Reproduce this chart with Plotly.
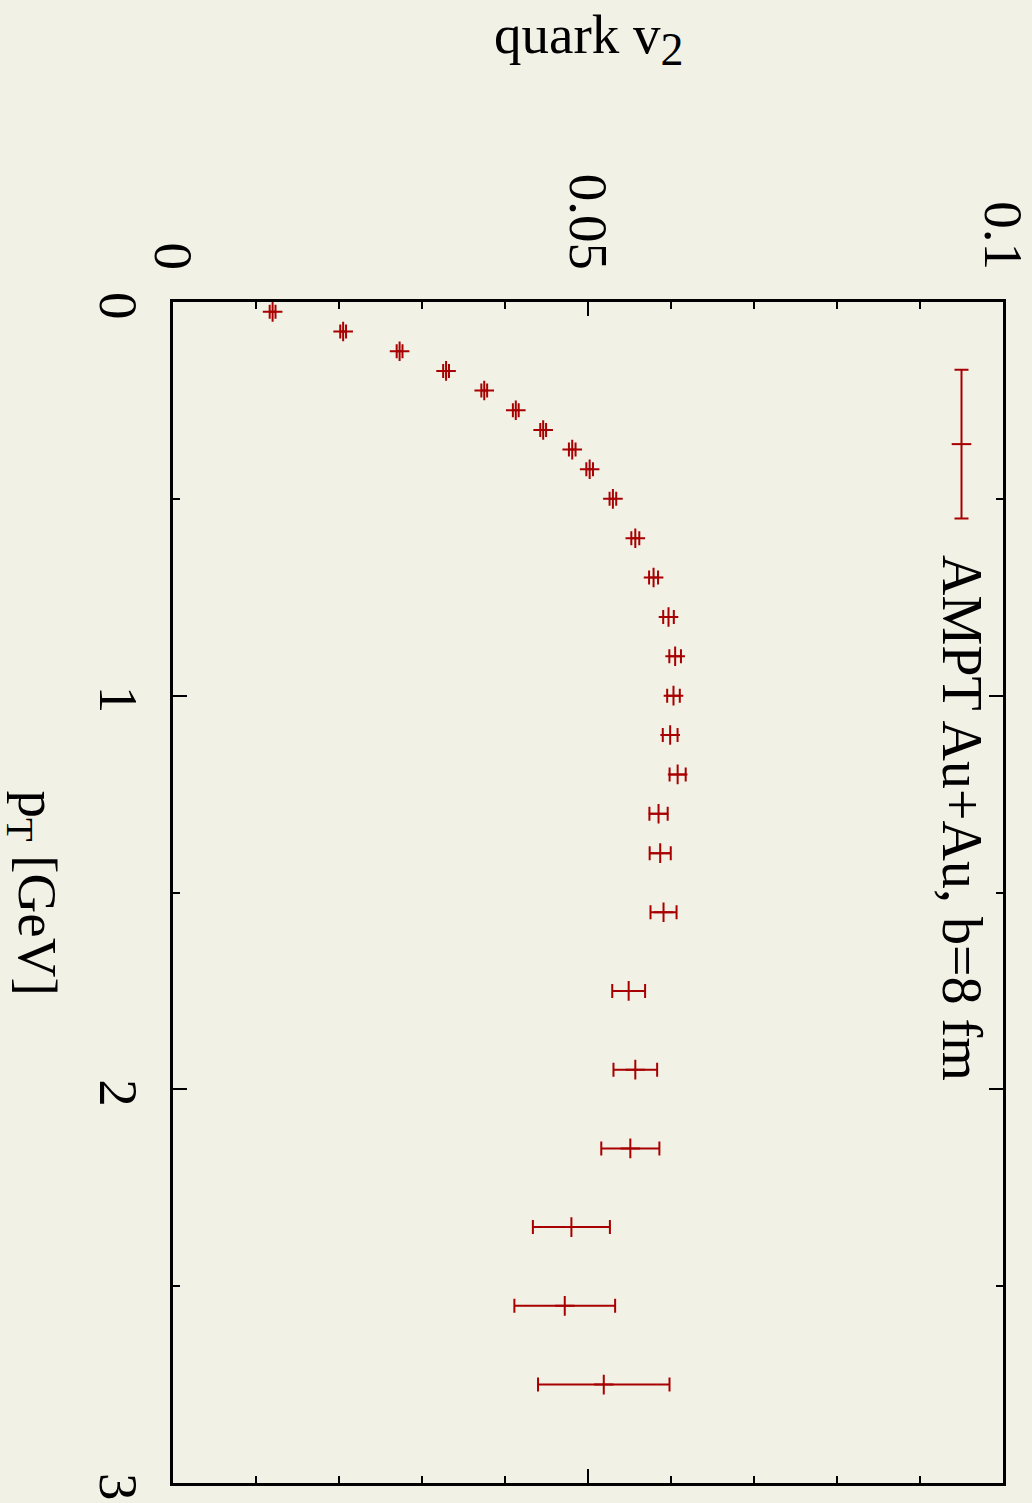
import plotly.graph_objects as go

# Quark elliptic flow v2 versus transverse momentum (AMPT, Au+Au, b=8 fm)
pt_gev = [0.025, 0.075, 0.125, 0.175, 0.225, 0.275, 0.325, 0.375, 0.425,
          0.5, 0.6, 0.7, 0.8, 0.9, 1.0, 1.1, 1.2, 1.3, 1.4, 1.55,
          1.75, 1.95, 2.15, 2.35, 2.55, 2.75]
v2 = [0.0120, 0.0205, 0.0273, 0.0329, 0.0375, 0.0413, 0.0446, 0.0481, 0.0502,
      0.0530, 0.0557, 0.0579, 0.0597, 0.0605, 0.0603, 0.0599, 0.0608, 0.0585,
      0.0587, 0.0591, 0.0549, 0.0557, 0.0551, 0.0480, 0.0472, 0.0519]
v2_err = [0.00035, 0.00035, 0.00035, 0.00035, 0.00035, 0.00035, 0.00035, 0.0004,
          0.0004, 0.0004, 0.00048, 0.00054, 0.00064, 0.0007, 0.00076, 0.00089,
          0.00097, 0.0011, 0.00127, 0.00157, 0.00198, 0.00263, 0.0035, 0.00464,
          0.00607, 0.00792]

series_label = "AMPT Au+Au, b=8 fm"
v2_ticks = [0, 0.05, 0.1]
v2_ticktext = ["0", "0.05", "0.1"]
pt_ticks = [0, 1, 2, 3]
pt_ticktext = ["0", "1", "2", "3"]

# key sample (drawn in the plot's own coordinates)
key_v2 = [0.0950]
key_pt = [0.361]
key_half = [0.189]

RED = "#a80000"
BG = "#f2f1e6"
FONT = "Liberation Serif"
FS = 55

fig = go.Figure()

fig.add_trace(go.Scatter(
    x=v2, y=pt_gev, mode="markers",
    marker=dict(symbol="cross-thin", size=14, line=dict(width=2, color=RED), color=RED),
    error_x=dict(type="data", array=v2_err, visible=True, color=RED, thickness=2, width=7),
    showlegend=False,
))

fig.add_trace(go.Scatter(
    x=key_v2, y=key_pt, mode="markers",
    marker=dict(symbol="line-ew", size=14, line=dict(width=2, color=RED), color=RED),
    error_y=dict(type="data", array=key_half, visible=True, color=RED, thickness=2, width=7),
    showlegend=False, hoverinfo="skip",
))

axis_common = dict(
    showline=True, linewidth=2.5, linecolor="black", mirror="ticks",
    ticks="inside", ticklen=14, tickwidth=2, tickcolor="black",
    showgrid=False, zeroline=False, tickangle=90, automargin=False,
    ticklabeloverflow="allow",
    tickfont=dict(family=FONT, size=FS, color="black"),
)

fig.update_xaxes(
    range=[0, 0.1000001], side="top", tickmode="array",
    tickvals=v2_ticks, ticktext=v2_ticktext,
    minor=dict(dtick=0.01, ticks="inside", ticklen=7, tickwidth=2, tickcolor="black"),
    ticklabelstandoff=10,
    **axis_common,
)
fig.update_yaxes(
    range=[3.0000001, 0], tickmode="array",
    tickvals=pt_ticks, ticktext=pt_ticktext,
    minor=dict(dtick=0.5, ticks="inside", ticklen=7, tickwidth=2, tickcolor="black"),
    ticklabelstandoff=4, ticklabelshift=-12,
    **axis_common,
)

fig.add_annotation(
    text="quark v<sub><span style=\"font-size:46px\">2</span></sub>",
    xref="paper", yref="paper",
    x=0.5, y=1.0, yshift=263, xanchor="center", yanchor="middle",
    showarrow=False, font=dict(family=FONT, size=FS, color="black"),
)
fig.add_annotation(
    text="p<sub>T</sub> [GeV]", xref="paper", yref="paper",
    x=0.0, y=0.5, xshift=-140, xanchor="center", yanchor="middle",
    textangle=90, showarrow=False, font=dict(family=FONT, size=FS, color="black"),
)
fig.add_annotation(
    text=series_label, xref="paper", yref="paper",
    x=(962 - 173) / 830, y=1 - (818 - 302) / 1181, xanchor="center", yanchor="middle",
    textangle=90, showarrow=False, font=dict(family=FONT, size=56, color="black"),
)

fig.update_layout(
    width=1032, height=1503,
    margin=dict(l=173, r=29, t=302, b=20, autoexpand=False),
    paper_bgcolor=BG, plot_bgcolor=BG,
    showlegend=False,
)

fig.write_html("out.html")
